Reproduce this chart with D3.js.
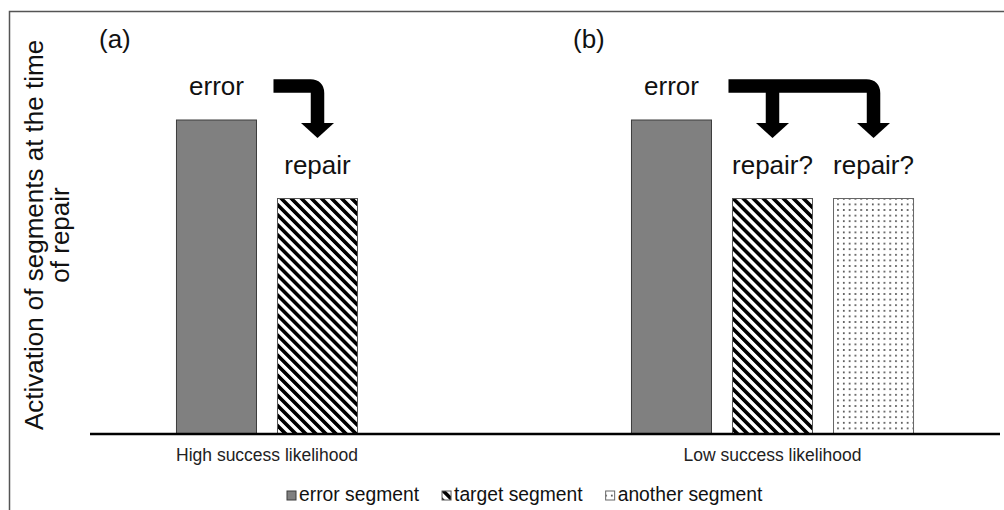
<!DOCTYPE html>
<html lang="en">
  <head>
    <meta charset="utf-8">
    <title>Activation of segments at the time of repair</title>
    <style>
      body {
        margin: 0;
        background: #fff;
      }

      svg {
        display: block;
        width: 1004px;
        height: 510px;
        font-family: "Liberation Sans", Arial, sans-serif;
      }

      .note {
        font-size: 26px;
        fill: #111;
        text-anchor: middle;
      }

      .panel {
        font-size: 26px;
        fill: #111;
      }

      .ylabel {
        font-size: 26px;
        fill: #111;
        text-anchor: middle;
      }

      .cat {
        font-size: 17.5px;
        fill: #222;
        text-anchor: middle;
      }

      .legend text {
        font-size: 19.3px;
        fill: #111;
      }

      .axis path {
        stroke: #000;
        stroke-width: 2.5;
      }
    </style>
  </head>

  <body>
    <svg id="chart"></svg>
    <script src="https://d3js.org/d3.v7.min.js"></script>
    <script>
      // chart values
      const groups = ["High success likelihood", "Low success likelihood"];
      const panels = ["(a)", "(b)"];
      const series = ["error segment", "target segment", "another segment"];
      const highValues = [1.0, 0.75, null];
      const lowValues = [1.0, 0.75, 0.75];
      const highNotes = ["error", "repair", null];
      const lowNotes = ["error", "repair?", "repair?"];
      const yTitle = ["Activation of segments at the time", "of repair"];

      const values = [highValues, lowValues];
      const notes = [highNotes, lowNotes];
      const fills = ["#808080", "url(#hatch)", "url(#dots)"];
      const strokes = ["#3c3c3c", "#555", "#666"];

      var svg = d3.select("svg");

      var x0 = d3.scaleBand().domain(groups).range([90, 1000]);
      var x1 = d3.scaleBand().domain(series).range([0, x0.bandwidth()])
        .paddingInner(0.208).paddingOuter(0.856);
      var y = d3.scaleLinear().domain([0, 1]).range([434, 120]);

      // patterns
      var defs = svg.append("defs");
      var hatch = defs.append("pattern")
        .attr("id", "hatch")
        .attr("patternUnits", "userSpaceOnUse")
        .attr("width", 7.1)
        .attr("height", 7.1)
        .attr("patternTransform", "rotate(-45)");
      hatch.append("rect").attr("width", 7.1).attr("height", 7.1).attr("fill", "#fff");
      hatch.append("rect").attr("width", 3.6).attr("height", 7.1).attr("fill", "#000");

      var dots = defs.append("pattern")
        .attr("id", "dots")
        .attr("patternUnits", "userSpaceOnUse")
        .attr("width", 5.8)
        .attr("height", 5.6);
      dots.append("rect").attr("width", 5.8).attr("height", 5.6).attr("fill", "#fff");
      dots.append("rect").attr("x", 2).attr("y", 2).attr("width", 1.6).attr("height", 1.6).attr("fill", "#333");

      // frame
      svg.append("rect")
        .attr("x", 9.5)
        .attr("y", 11.5)
        .attr("width", 1100)
        .attr("height", 600)
        .attr("fill", "none")
        .attr("stroke", "#555")
        .attr("stroke-width", 1.5);

      var rows = [];
      groups.forEach((g, gi) => {
        series.forEach((s, si) => {
          if (values[gi][si] != null) {
            rows.push({ group: g, gi: gi, series: s, si: si, value: values[gi][si], note: notes[gi][si] });
          }
        });
      });

      var bx = d => x0(d.group) + x1(d.series);
      var bc = d => bx(d) + x1.bandwidth() / 2;

      svg.selectAll(".bar")
        .data(rows)
        .enter()
        .append("rect")
        .attr("class", "bar")
        .attr("x", d => bx(d))
        .attr("y", d => y(d.value))
        .attr("width", x1.bandwidth())
        .attr("height", d => y(0) - y(d.value))
        .attr("fill", d => fills[d.si])
        .attr("stroke", d => strokes[d.si])
        .attr("stroke-width", 1);

      // baseline
      svg.append("g")
        .attr("class", "axis")
        .attr("transform", "translate(0," + y(0) + ")")
        .call(d3.axisBottom(x0).tickSize(0).tickFormat(""))
        .select(".domain")
        .attr("d", "M90,0H1000");

      svg.selectAll(".note")
        .data(rows)
        .enter()
        .append("text")
        .attr("class", "note")
        .attr("x", d => bc(d))
        .attr("y", d => y(d.value) - 25)
        .text(d => d.note);

      // category labels, centred under the bars that are present
      groups.forEach((g, gi) => {
        var present = rows.filter(d => d.gi === gi);
        svg.append("text")
          .attr("class", "cat")
          .attr("x", d3.mean(present, bc))
          .attr("y", y(0) + 27)
          .text(g);
      });

      // panel letters
      var panelX = [99, 573];
      panels.forEach((p, i) => {
        svg.append("text")
          .attr("class", "panel")
          .attr("x", panelX[i])
          .attr("y", 48)
          .text(p);
      });

      // arrows from the error bar to the repair bars
      groups.forEach((g, gi) => {
        var present = rows.filter(d => d.gi === gi);
        var src = present[0];
        var targets = present.slice(1);
        var top = y(src.value);
        var ay = top - 34;
        var headTop = top + 3;
        var x0a = bx(src) + x1.bandwidth() + 17;
        var last = targets[targets.length - 1];
        var lx = bc(last);
        var r = 7;
        svg.append("path")
          .attr("d", "M" + x0a + "," + ay + "H" + (lx - r) + "Q" + lx + "," + ay + " " + lx + "," + (ay + r) + "V" + headTop)
          .attr("fill", "none")
          .attr("stroke", "#000")
          .attr("stroke-width", 13.5);
        targets.slice(0, -1).forEach(t => {
          svg.append("path")
            .attr("d", "M" + bc(t) + "," + ay + "V" + headTop)
            .attr("stroke", "#000")
            .attr("stroke-width", 13.5);
        });
        targets.forEach(t => {
          var cx = bc(t);
          svg.append("path")
            .attr("d", "M" + (cx - 16.5) + "," + headTop + "L" + (cx + 16.5) + "," + headTop + "L" + cx + "," + (headTop + 15) + "Z")
            .attr("fill", "#000");
        });
      });

      // y title
      yTitle.forEach((t, i) => {
        svg.append("text")
          .attr("class", "ylabel")
          .attr("transform", "translate(" + (43 + i * 26) + ",235) rotate(-90)")
          .text(t);
      });

      // legend
      var legend = svg.append("g").attr("class", "legend");
      var lx = 287;
      series.forEach((s, i) => {
        legend.append("rect")
          .attr("x", lx)
          .attr("y", 491)
          .attr("width", 9)
          .attr("height", 9)
          .attr("fill", fills[i])
          .attr("stroke", strokes[i]);
        var t = legend.append("text")
          .attr("x", lx + 12)
          .attr("y", 501)
          .text(s);
        lx += 12 + t.node().getComputedTextLength() + 23;
      });
    </script>
  </body>

</html>
